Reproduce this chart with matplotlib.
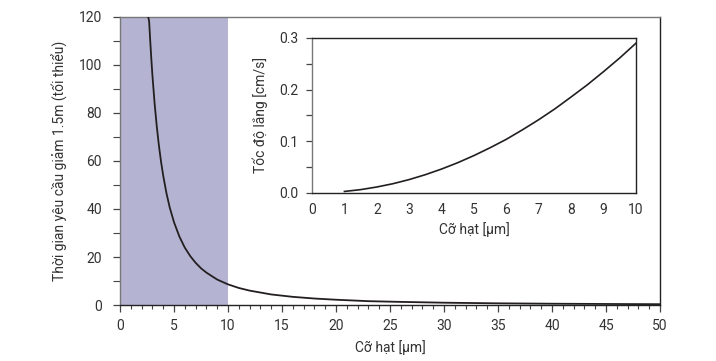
import matplotlib
matplotlib.use("Agg")
import matplotlib.pyplot as plt
from matplotlib.ticker import MultipleLocator

plt.rcParams['font.family'] = ['Roboto', 'DejaVu Sans']

# Main chart: required settling time (min) vs particle size (um)
size_um = [2.62, 2.7, 2.8, 2.9, 3.0, 3.2, 3.4, 3.6, 3.8, 4.0, 4.3, 4.6, 5.0, 5.5,
           6.0, 6.5, 7.0, 7.5, 8.0, 9.0, 10.0, 11.0, 12.0, 14.0, 16.0, 18.0, 20.0,
           23.0, 26.0, 30.0, 35.0, 40.0, 45.0, 50.0]
time_min = [120, 118, 110, 102.5, 95.8, 84.2, 74.6, 66.5, 59.7, 53.9, 46.6, 40.7,
            34.5, 28.5, 23.9, 20.4, 17.6, 15.3, 13.5, 10.6, 8.6, 7.1, 6.0, 4.4,
            3.4, 2.7, 2.2, 1.6, 1.3, 0.96, 0.70, 0.54, 0.43, 0.34]

# Inset: settling velocity (cm/s) vs particle size (um)
inset_size = [1, 1.5, 2, 2.5, 3, 3.5, 4, 4.5, 5, 5.5, 6, 6.5, 7, 7.5, 8, 8.5, 9, 9.5, 10]
inset_vel = [0.003, 0.0065, 0.0116, 0.018, 0.026, 0.0355, 0.0464, 0.0587, 0.0725,
             0.0877, 0.104, 0.1225, 0.142, 0.163, 0.186, 0.2095, 0.235, 0.2615, 0.29]

shade_range = [0, 10]

txt = '#333333'
fs = 10
fig = plt.figure(figsize=(7.16, 3.61), dpi=100)
ax = fig.add_axes([0.1676, 0.1551, 0.7542, 0.7979])
ax.axvspan(shade_range[0], shade_range[1], color='#b4b4d2', lw=0, zorder=0)
ax.plot(size_um, time_min, color='#231f20', lw=1.3, zorder=3)
ax.set_xlim(0, 50)
ax.set_ylim(0, 120)
ax.xaxis.set_major_locator(MultipleLocator(5))
ax.xaxis.set_minor_locator(MultipleLocator(1))
ax.yaxis.set_major_locator(MultipleLocator(20))
ax.yaxis.set_minor_locator(MultipleLocator(10))
ax.tick_params(which='major', length=5, width=0.9, colors='#444444', labelcolor=txt, labelsize=fs, pad=5)
ax.tick_params(axis='y', which='major', pad=8)
ax.tick_params(which='minor', length=3, width=0.8, colors='#444444')
ax.tick_params(axis='y', which='minor', length=5)
ax.set_xlabel('Cỡ hạt [µm]', color=txt, fontsize=fs, labelpad=5)
ax.set_ylabel('Thời gian yêu cầu giảm 1.5m (tối thiểu)', color=txt, fontsize=fs, labelpad=8)
for s in ['left', 'top']:
    ax.spines[s].set_color('#777777')
for s in ['bottom', 'right']:
    ax.spines[s].set_color('#222222')
for s in ax.spines.values():
    s.set_linewidth(1.0)

ins = fig.add_axes([0.4358, 0.4654, 0.4525, 0.4294])
ins.plot(inset_size, inset_vel, color='#231f20', lw=1.2)
ins.set_xlim(0, 10)
ins.set_ylim(0, 0.3)
ins.xaxis.set_major_locator(MultipleLocator(1))
ins.yaxis.set_major_locator(MultipleLocator(0.1))
ins.yaxis.set_minor_locator(MultipleLocator(0.05))
ins.yaxis.set_major_formatter(matplotlib.ticker.FormatStrFormatter('%.1f'))
ins.tick_params(axis='x', length=0, labelcolor=txt, labelsize=fs, pad=7)
ins.tick_params(axis='y', which='both', length=4, width=0.9, colors='#444444', labelcolor=txt, labelsize=fs, pad=6)
ins.set_xlabel('Cỡ hạt [µm]', color=txt, fontsize=fs, labelpad=4)
ins.set_ylabel('Tốc độ lắng [cm/s]', color=txt, fontsize=fs, labelpad=8)
ins.spines['left'].set_color('#777777')
for s in ['bottom', 'right', 'top']:
    ins.spines[s].set_color('#222222')
for s in ins.spines.values():
    s.set_linewidth(1.0)

fig.savefig('out.png', dpi=100)
